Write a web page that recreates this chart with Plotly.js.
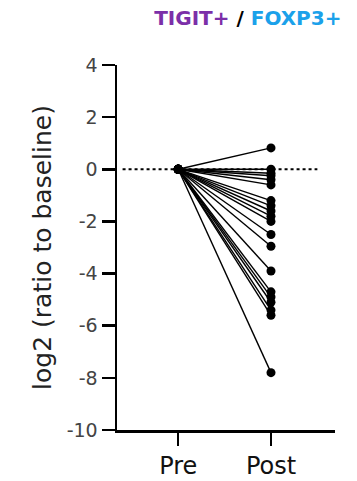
<!DOCTYPE html>
<html>
<head>
<meta charset="utf-8">
<script src="https://cdn.plot.ly/plotly-3.0.1.min.js"></script>
<style>html,body{margin:0;padding:0;background:#fff;}#chart{width:357px;height:481px;}</style>
</head>
<body>
<div id="chart"></div>
<script>
var categories = ["Pre", "Post"];
var preValues = [0, 0, 0, 0, 0, 0, 0, 0, 0, 0, 0, 0, 0, 0, 0, 0, 0, 0, 0, 0];
var postValues = [0.82, 0.0, -0.15, -0.25, -0.4, -0.6, -1.2, -1.4, -1.6, -1.8, -2.0, -2.5, -2.95, -3.9, -4.7, -4.9, -5.1, -5.4, -5.6, -7.8];
var yTicks = [4, 2, 0, -2, -4, -6, -8, -10];
var yTickLabels = ["4", "2", "0", "-2", "-4", "-6", "-8", "-10"];

var traces = [];
for (var i = 0; i < postValues.length; i++) {
  traces.push({
    x: [0, 1],
    y: [preValues[i], postValues[i]],
    type: "scatter",
    mode: "lines+markers",
    line: {color: "#000", width: 1.4},
    marker: {color: "#000", size: 9},
    hoverinfo: "none",
    showlegend: false
  });
}

var font = "'DejaVu Sans', sans-serif";
var layout = {
  width: 357, height: 481,
  margin: {l: 117, r: 22, t: 65, b: 51},
  paper_bgcolor: "#fff", plot_bgcolor: "#fff",
  title: {
    text: "<b><span style='color:#7B2FA8'>TIGIT+</span> / <span style='color:#1BA1EA'>FOXP3+</span></b>",
    font: {family: font, size: 20, color: "#000"},
    x: 0.6, xref: "paper", xanchor: "center",
    y: 0.962, yref: "container", yanchor: "middle"
  },
  xaxis: {
    range: [-0.66, 1.69],
    tickvals: [0, 1], ticktext: categories,
    showline: true, linecolor: "#000", linewidth: 2.5,
    ticks: "outside", ticklen: 13, tickwidth: 2.5, tickcolor: "#000",
    showgrid: false, zeroline: false,
    tickfont: {family: font, size: 24, color: "#111"},
    fixedrange: true
  },
  yaxis: {
    range: [-10, 4],
    tickvals: yTicks, ticktext: yTickLabels,
    showline: true, linecolor: "#000", linewidth: 2.5,
    ticks: "outside", ticklen: 13, tickwidth: 2.5, tickcolor: "#000",
    showgrid: false, zeroline: false,
    tickfont: {family: font, size: 19, color: "#444"},
    title: {text: "log2 (ratio to baseline)", font: {family: font, size: 25, color: "#222"}, standoff: 8},
    fixedrange: true
  },
  shapes: [{
    type: "line", xref: "x", yref: "y",
    x0: -0.6, x1: 1.5, y0: 0, y1: 0,
    line: {color: "#000", width: 2, dash: "dot"},
    layer: "below"
  }]
};

Plotly.newPlot("chart", traces, layout, {displayModeBar: false, staticPlot: true});
</script>
</body>
</html>
